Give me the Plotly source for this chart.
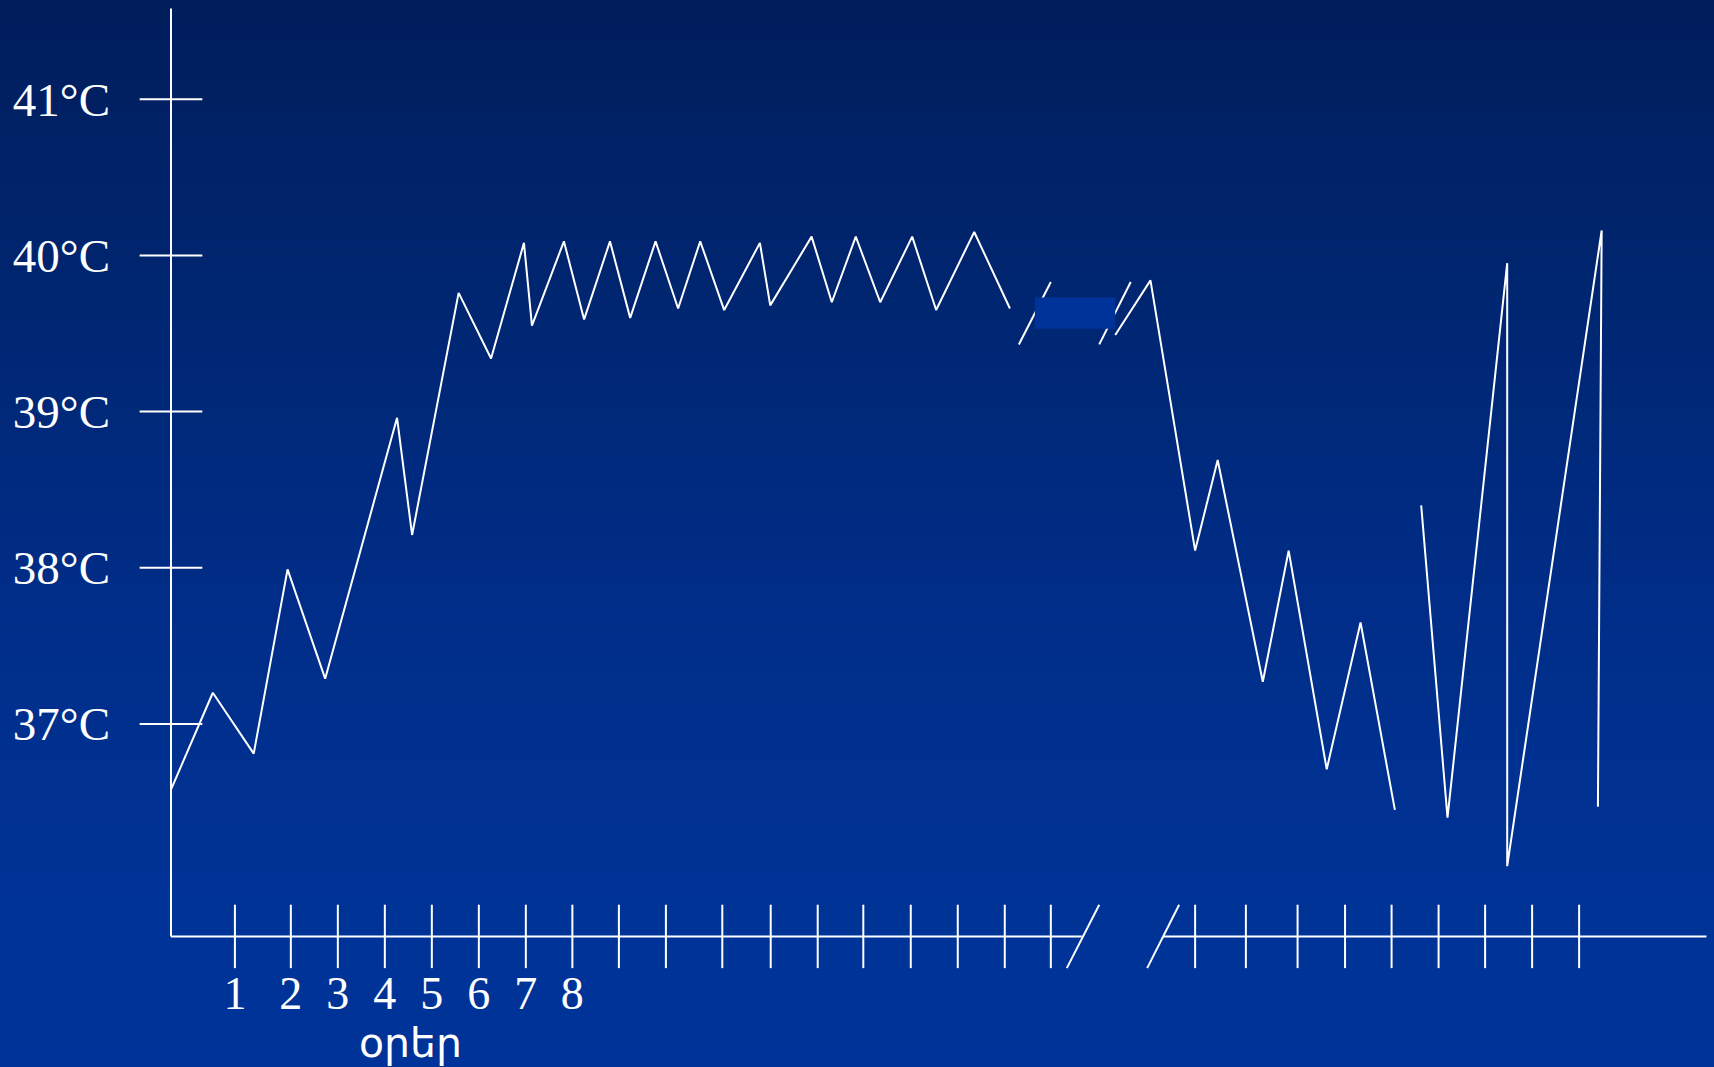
import plotly.graph_objects as go

# ---------------------------------------------------------------------------
# Temperature course (x: days from onset, y: body temperature in °C)
# ---------------------------------------------------------------------------
rise_days = [0.00, 0.89, 1.76, 2.48, 3.28, 4.81, 5.13, 6.12, 6.81, 7.51,
             7.68, 8.36, 8.79, 9.34, 9.77, 10.31, 10.79, 11.26, 11.77, 12.53,
             12.75, 13.63, 14.06, 14.57, 15.09, 15.77, 16.28, 17.09, 17.85]
rise_temp = [36.58, 37.20, 36.81, 37.99, 37.29, 38.96, 38.21, 39.76, 39.34, 40.08,
             39.55, 40.09, 39.59, 40.09, 39.60, 40.09, 39.66, 40.09, 39.65, 40.08,
             39.68, 40.12, 39.70, 40.12, 39.70, 40.12, 39.65, 40.15, 39.66]

fall_days = [20.09, 20.84, 21.79, 22.27, 23.23, 23.78, 24.59, 25.31, 26.04]
fall_temp = [39.49, 39.84, 38.11, 38.69, 37.27, 38.11, 36.71, 37.65, 36.45]

final_days = [26.60, 27.16, 28.43, 28.43, 30.44, 30.36]
final_temp = [38.40, 36.40, 39.95, 36.09, 40.16, 36.47]

# axis ticks and labels
day_ticks = [1.36, 2.55, 3.55, 4.55, 5.55, 6.55, 7.55, 8.54, 9.53, 10.53,
             11.73, 12.76, 13.76, 14.73, 15.74, 16.74, 17.74, 18.72,
             21.79, 22.87, 23.97, 24.98, 25.97, 26.97, 27.96, 28.96, 29.96]
day_labels = ["1", "2", "3", "4", "5", "6", "7", "8"]
temp_ticks = [37, 38, 39, 40, 41]
temp_labels = ["37°C", "38°C", "39°C", "40°C", "41°C"]
axis_title = "օրեր"

# ---------------------------------------------------------------------------
# Layout geometry
# ---------------------------------------------------------------------------
X_RANGE = [-3.638, 32.830]
Y_RANGE = [34.804, 41.635]
BASE_T = 35.64          # temperature level where the day axis is drawn
TICK_HALF_T = 0.203     # half length of day ticks (in °C units)
TICK_HALF_D = 0.667     # half length of temperature ticks (in day units)
Y_AXIS_TOP = 41.58
X_AXIS_PIECES = [(0.0, 19.38), (21.11, 32.67)]
AXIS_BREAKS = [(19.06, 19.75), (20.77, 21.45)]
CURVE_BREAKS = [(18.04, 18.72), (19.75, 20.42)]
CURVE_BREAK_T = (39.43, 39.83)
GAP_BOX = dict(x0=18.38, x1=20.09, y0=39.53, y1=39.73)

WHITE = "#ffffff"
BOX_FILL = "#003399"

fig = go.Figure()

# vertical gradient background
bg_rows_t = [34.72, 35.87, 37.79, 39.71, 41.70]
bg_rows_v = [4, 3, 2, 1, 0]
fig.add_trace(go.Heatmap(
    x=[-4.5, 33.5],
    y=bg_rows_t,
    z=[[v, v] for v in bg_rows_v],
    zsmooth="best",
    colorscale=[[0.0, "rgb(0,29,90)"], [0.25, "rgb(0,38,113)"],
                [0.5, "rgb(0,45,136)"], [0.75, "rgb(0,51,150)"],
                [1.0, "rgb(0,51,153)"]],
    zmin=0, zmax=4, showscale=False, hoverinfo="skip",
))

# filler box that hides the gap in the curve
fig.add_shape(type="rect", xref="x", yref="y", line_width=0,
              fillcolor=BOX_FILL, layer="above", **GAP_BOX)

# axes, ticks and break marks
ax_x, ax_y = [0.0, 0.0, None], [BASE_T, Y_AXIS_TOP, None]
for a, b in X_AXIS_PIECES:
    ax_x += [a, b, None]
    ax_y += [BASE_T, BASE_T, None]
for d in day_ticks:
    ax_x += [d, d, None]
    ax_y += [BASE_T - TICK_HALF_T, BASE_T + TICK_HALF_T, None]
for t in temp_ticks:
    ax_x += [-TICK_HALF_D, TICK_HALF_D, None]
    ax_y += [t, t, None]
for a, b in AXIS_BREAKS:
    ax_x += [a, b, None]
    ax_y += [BASE_T - TICK_HALF_T, BASE_T + TICK_HALF_T, None]
for a, b in CURVE_BREAKS:
    ax_x += [a, b, None]
    ax_y += [CURVE_BREAK_T[0], CURVE_BREAK_T[1], None]

fig.add_trace(go.Scatter(x=ax_x, y=ax_y, mode="lines",
                         line=dict(color=WHITE, width=2),
                         hoverinfo="skip", showlegend=False))

# temperature curve pieces
for xs, ys in [(rise_days, rise_temp), (fall_days, fall_temp),
               (final_days, final_temp)]:
    fig.add_trace(go.Scatter(x=xs, y=ys, mode="lines",
                             line=dict(color=WHITE, width=2),
                             hoverinfo="skip", showlegend=False))

fig.add_annotation(text=axis_title, x=5.10, y=34.96, xref="x", yref="y",
                   showarrow=False, xanchor="center", yanchor="middle",
                   font=dict(family="DejaVu Sans", size=41, color=WHITE))

fig.update_layout(
    width=1714, height=1067, autosize=False,
    margin=dict(l=0, r=0, t=0, b=0, pad=0),
    paper_bgcolor=BOX_FILL, plot_bgcolor=BOX_FILL,
    showlegend=False,
    xaxis=dict(range=X_RANGE, anchor="free", position=0.098,
               showline=False, showgrid=False, zeroline=False, ticks="",
               tickmode="array", tickvals=day_ticks[:len(day_labels)],
               ticktext=day_labels,
               tickfont=dict(family="Liberation Serif", size=46, color=WHITE)),
    yaxis=dict(range=Y_RANGE, anchor="free", position=110 / 1714,
               showline=False, showgrid=False, zeroline=False, ticks="",
               tickmode="array", tickvals=temp_ticks, ticktext=temp_labels,
               tickfont=dict(family="Liberation Serif", size=47, color=WHITE)),
)

fig.write_html("out.html", config={"displayModeBar": False})
